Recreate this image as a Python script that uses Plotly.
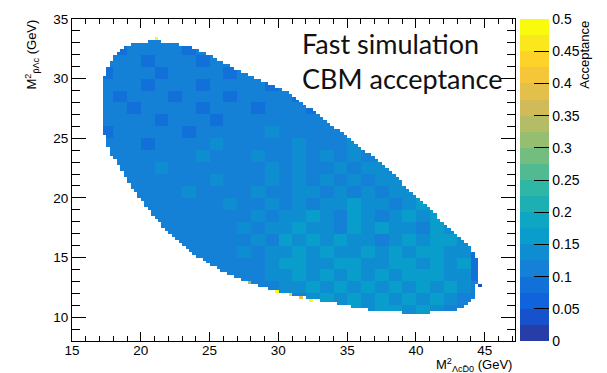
import numpy as np
import plotly.graph_objects as go

# ---- histogram binning (GeV^2) -------------------------------------------
X_RANGE = [15.0, 47.2]
Y_RANGE = [8.0, 35.0]
BIN = 0.25

# populated x-extent of every 0.25 GeV^2 row, rows starting at y = 10.25
ROW_XLO = [39.0, 36.5, 35.25, 34.25, 33.0, 32.0, 31.0, 30.0, 29.25, 28.5,
           27.75, 27.25, 26.75, 26.25, 25.75, 25.5, 25.0, 24.75, 24.5, 24.0,
           23.75, 23.5, 23.25, 23.0, 22.75, 22.5, 22.25, 22.0, 21.75, 21.5,
           21.5, 21.25, 21.0, 20.75, 20.75, 20.5, 20.25, 20.25, 20.0, 19.75,
           19.75, 19.5, 19.25, 19.25, 19.0, 19.0, 18.75, 18.75, 18.5, 18.5,
           18.25, 18.25, 18.0, 17.75, 17.75, 17.75, 17.5, 17.5, 17.5, 17.5,
           17.25, 17.25, 17.25, 17.25, 17.25, 17.25, 17.25, 17.25, 17.25, 17.25,
           17.25, 17.25, 17.25, 17.25, 17.25, 17.25, 17.25, 17.25, 17.25, 17.25,
           17.5, 17.5, 17.5, 17.75, 17.75, 18.0, 18.0, 18.25, 18.5, 18.75,
           19.25, 20.5]
ROW_XHI = [41.0, 43.0, 43.5, 43.75, 44.0, 44.25, 44.25, 44.25, 44.25, 44.25,
           44.5, 44.5, 44.5, 44.5, 44.5, 44.5, 44.5, 44.5, 44.5, 44.25,
           44.25, 44.0, 44.0, 43.75, 43.5, 43.25, 43.0, 42.75, 42.5, 42.25,
           42.0, 41.75, 41.5, 41.5, 41.25, 41.0, 40.75, 40.5, 40.25, 40.0,
           39.75, 39.5, 39.25, 39.0, 39.0, 38.75, 38.5, 38.25, 38.0, 37.75,
           37.5, 37.25, 37.0, 36.75, 36.25, 36.0, 35.75, 35.5, 35.25, 35.0,
           34.75, 34.5, 34.0, 33.75, 33.5, 33.25, 33.0, 32.75, 32.5, 32.0,
           31.75, 31.5, 31.25, 31.0, 30.75, 30.25, 29.75, 29.25, 28.75, 28.25,
           27.75, 27.25, 26.75, 26.5, 26.0, 25.5, 25.25, 24.75, 24.25, 23.75,
           22.75, 21.5]

# typical acceptance of each 1x1 GeV^2 block, as colour band index
# (band k spans k*0.025 .. (k+1)*0.025); columns x = 17..45, rows y = 33..10
BLOCK_BANDS = [
    "44444444444444444444444444444",
    "43444434444444444444444444444",
    "44434443444344444444444444444",
    "34443444434444444444444444444",
    "44434443444434444444444444444",
    "43444344434444344444444444444",
    "44344443444344434444444444444",
    "44443444344444444544444444444",
    "34444434444454444445444444444",
    "44434444544444544454544444444",
    "44444445444544545454544444444",
    "44445444444454544545545444444",
    "44444444544454545454554454444",
    "44444454444544554545455454444",
    "44444444454454545565545655444",
    "44444444444545565465456565444",
    "44444444445455655465655465544",
    "44444444444546565655456566534",
    "44444444445455656556565665534",
    "44444444444456655665566565634",
    "44444444444455656565656665534",
    "44444444444445565656565656544",
    "44444444444444456565656565444",
    "44444444444444444565665654444",
]

# isolated cells far from the typical acceptance: (x centre, y centre, value)
SPECIAL_CELLS = [
    (21.125, 33.375, 0.49),
    (29.875, 12.125, 0.49),
    (30.875, 11.875, 0.43),
    (32.375, 11.375, 0.48),
    (31.625, 11.625, 0.38),
    (27.875, 12.875, 0.31),
    (44.625, 12.625, 0.03),
]

CBAR_TICKS = [0, 0.05, 0.1, 0.15, 0.2, 0.25, 0.3, 0.35, 0.4, 0.45, 0.5]
CBAR_LABELS = ["0", "0.05", "0.1", "0.15", "0.2", "0.25", "0.3", "0.35",
               "0.4", "0.45", "0.5"]

# ---- build the 2D histogram --------------------------------------------
xc = np.arange(X_RANGE[0] + BIN / 2, 47.25, BIN)
yc = np.arange(Y_RANGE[0] + BIN / 2, Y_RANGE[1], BIN)
z = np.full((len(yc), len(xc)), np.nan)

for r, (lo, hi) in enumerate(zip(ROW_XLO, ROW_XHI)):
    y0 = 10.25 + r * BIN
    j = int(round((y0 - Y_RANGE[0]) / BIN))
    brow = BLOCK_BANDS[33 - int(np.floor(y0))]
    for i, x in enumerate(xc):
        if lo <= x - BIN / 2 and x + BIN / 2 <= hi:
            band = int(brow[int(np.floor(x)) - 17])
            z[j, i] = (band + 0.5) * 0.025

for x, y, v in SPECIAL_CELLS:
    i = int(np.argmin(np.abs(xc - x)))
    j = int(np.argmin(np.abs(yc - y)))
    z[j, i] = v

# ---- ROOT "bird" palette split into 20 contour bands ---------------------
STOPS = [0.0, 0.125, 0.25, 0.375, 0.5, 0.625, 0.75, 0.875, 1.0]
RED = [0.2082, 0.0592, 0.0780, 0.0232, 0.1802, 0.5301, 0.8186, 0.9956, 0.9764]
GRN = [0.1664, 0.3599, 0.5041, 0.6419, 0.7178, 0.7492, 0.7328, 0.7862, 0.9832]
BLU = [0.5293, 0.8684, 0.8385, 0.7914, 0.6425, 0.4662, 0.3499, 0.1968, 0.0539]


def bird(t):
    r = np.interp(t, STOPS, RED)
    g = np.interp(t, STOPS, GRN)
    b = np.interp(t, STOPS, BLU)
    return "rgb(%d,%d,%d)" % (round(r * 255), round(g * 255), round(b * 255))


NB = 20
colorscale = []
for k in range(NB):
    idx = int((k + 0.99) * 255 / NB)
    col = bird(min(idx, 254) / 254)
    colorscale.append([k / NB, col])
    colorscale.append([(k + 1) / NB, col])

FONT = "Liberation Sans, Arial, Helvetica, sans-serif"

fig = go.Figure(
    go.Heatmap(
        x=xc, y=yc, z=z,
        zmin=0, zmax=0.5,
        colorscale=colorscale,
        hoverongaps=False,
        colorbar=dict(
            x=1.011, xanchor="left", xpad=0,
            y=0.5, yanchor="middle", ypad=0,
            len=1.0, lenmode="fraction",
            thickness=29, thicknessmode="pixels",
            outlinewidth=0,
            ticks="inside", ticklen=15, tickcolor="black", tickwidth=1,
            tickvals=CBAR_TICKS, ticktext=CBAR_LABELS,
            tickfont=dict(family=FONT, size=14, color="black"),
        ),
    )
)

axis_common = dict(
    showgrid=False, zeroline=False,
    showline=True, linecolor="black", linewidth=1,
    mirror="allticks", ticks="inside", tickcolor="black", tickwidth=1,
    tickfont=dict(family=FONT, size=13.5, color="black"),
)

fig.update_xaxes(
    range=X_RANGE, tickvals=[15, 20, 25, 30, 35, 40, 45], ticklen=9,
    ticklabelstandoff=-3,
    minor=dict(dtick=1, ticks="inside", ticklen=5, tickcolor="black"),
    **axis_common,
)
fig.update_yaxes(
    range=Y_RANGE, tickvals=[10, 15, 20, 25, 30, 35], ticklen=14,
    minor=dict(dtick=1, ticks="inside", ticklen=8, tickcolor="black"),
    **axis_common,
)

annotations = [
    dict(text="M<sup>2</sup><sub>p\u0304\u039bc</sub> (GeV)",
         xref="paper", yref="paper", x=-0.09, y=1.005,
         xanchor="center", yanchor="top", textangle=-90, showarrow=False,
         font=dict(family=FONT, size=13, color="black")),
    dict(text="M<sup>2</sup><sub>\u039bcD\u03040</sub> (GeV)",
         xref="paper", yref="paper", x=0.997, y=-0.04,
         xanchor="right", yanchor="top", showarrow=False,
         font=dict(family=FONT, size=13, color="black")),
    dict(text="Acceptance", xref="paper", yref="paper", x=1.155, y=1.0,
         xanchor="center", yanchor="top", textangle=-90, showarrow=False,
         font=dict(family=FONT, size=13, color="black")),
    dict(text="Fast simulation", xref="paper", yref="paper",
         x=0.515, y=0.925, xanchor="left", yanchor="middle", showarrow=False,
         font=dict(family="Lato, sans-serif", size=27, color="#111111")),
    dict(text="CBM acceptance", xref="paper", yref="paper",
         x=0.515, y=0.815, xanchor="left", yanchor="middle", showarrow=False,
         font=dict(family="Lato, sans-serif", size=27, color="#111111")),
]

fig.update_layout(
    width=607, height=373,
    margin=dict(l=72, r=82, t=14, b=32),
    paper_bgcolor="white", plot_bgcolor="white",
    annotations=annotations,
    showlegend=False,
)

# right-hand axis line of the palette
fig.add_shape(type="line", xref="paper", yref="paper",
              x0=1.011 + 29 / 453, x1=1.011 + 29 / 453, y0=0, y1=1,
              line=dict(color="black", width=1))

fig.write_html("out.html")
